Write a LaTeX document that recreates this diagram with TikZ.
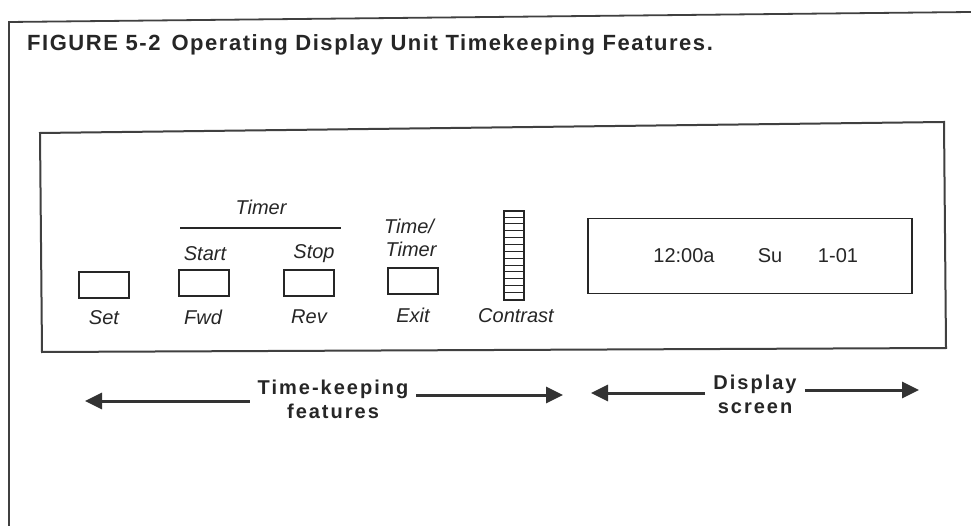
\documentclass[tikz,border=0pt]{standalone}
\usepackage{fontspec}
\setmainfont{Liberation Sans}
\usetikzlibrary{arrows.meta}
\begin{document}
\begin{tikzpicture}[x=1pt,y=-1pt,
  frame/.style={draw=black!75, line width=1.8pt},
  btn/.style={draw=black!85, line width=1.7pt, minimum width=50pt, minimum height=26pt, inner sep=0pt},
  lab/.style={font=\fontsize{20}{22}\selectfont\itshape, text=black!85, inner sep=0pt},
  disp/.style={font=\fontsize{20}{22}\selectfont, text=black!85, inner sep=0pt},
  big/.style={font=\fontsize{20}{24}\selectfont\bfseries\addfontfeature{LetterSpace=10}, align=center, text=black!85, inner ysep=0pt, inner xsep=8pt},
  arr/.style={line width=3pt, draw=black!80, -{Triangle[length=17pt,width=16pt]}}
]
\useasboundingbox (0,0) rectangle (971,526);
\fill[white] (0,0) rectangle (971,526);
% outer page frame
\draw[frame] (9,526) -- (9,22) -- (971,12);
% title
\node[anchor=west, inner sep=0pt, text=black!85,
      font=\fontsize{22}{26}\selectfont\bfseries\addfontfeature{LetterSpace=7}]
  (title) at (27,45) {FIGURE 5-2\hspace{0.5em}Operating Display Unit Timekeeping Features.};
% control panel
\draw[frame, line width=2pt] (40,133) -- (944,122) -- (946,348) -- (42,352) -- cycle;
% buttons
\node[btn] (set)  at (104,285) {};
\node[btn] (fwd)  at (204,283) {};
\node[btn] (rev)  at (309,283) {};
\node[btn] (exit) at (413,281) {};
% labels
\node[lab] (setl)  at (104,318) {Set};
\node[lab] (fwdl)  at (203,317) {Fwd};
\node[lab] (revl)  at (309,317) {Rev};
\node[lab] (exitl) at (413,315) {Exit};
\node[lab] (start) at (205,254) {Start};
\node[lab] (stop)  at (314,254) {Stop};
\node[lab] (timer) at (261,207) {Timer};
\node[lab] (timea) at (409,226) {Time/};
\node[lab] (timeb) at (411,249) {Timer};
\node[lab] (contl) at (516,316) {Contrast};
% timer bracket line
\coordinate (tl1) at (180,228);
\coordinate (tl2) at (341,228);
\draw[draw=black!85, line width=1.8pt] (tl1) -- (tl2);
% contrast bar
\node[draw=black!85, line width=1.4pt, minimum width=20pt, minimum height=89pt, inner sep=0pt] (cbar) at (514,255.5) {};
\foreach \i in {1,...,12}{
  \draw[black!85, line width=1pt] ([yshift=-\i*6.85pt]cbar.north west) -- ([yshift=-\i*6.85pt]cbar.north east);
}
% display screen
\node[draw=black!85, line width=1.8pt, minimum width=324pt, minimum height=75pt, inner sep=0pt] (screen) at (750,256) {};
\node[disp] (clock) at (684,256) {12:00a};
\node[disp] (day)   at (770,256) {Su};
\node[disp] (date)  at (838,256) {1-01};
% bottom captions and arrows
\node[big] (tk) at (333,399) {Time-keeping\\features};
\node[big] (ds) at (755,394) {Display\\screen};
\coordinate (tkL) at (85,401);
\coordinate (tkR) at (563,395);
\coordinate (dsL) at (591,393);
\coordinate (dsR) at (919,390);
\draw[arr] (tk.west |- tkL) -- (tkL);
\draw[arr] (tk.east |- tkR) -- (tkR);
\draw[arr] (ds.west |- dsL) -- (dsL);
\draw[arr] (ds.east |- dsR) -- (dsR);
\end{tikzpicture}
\end{document}
